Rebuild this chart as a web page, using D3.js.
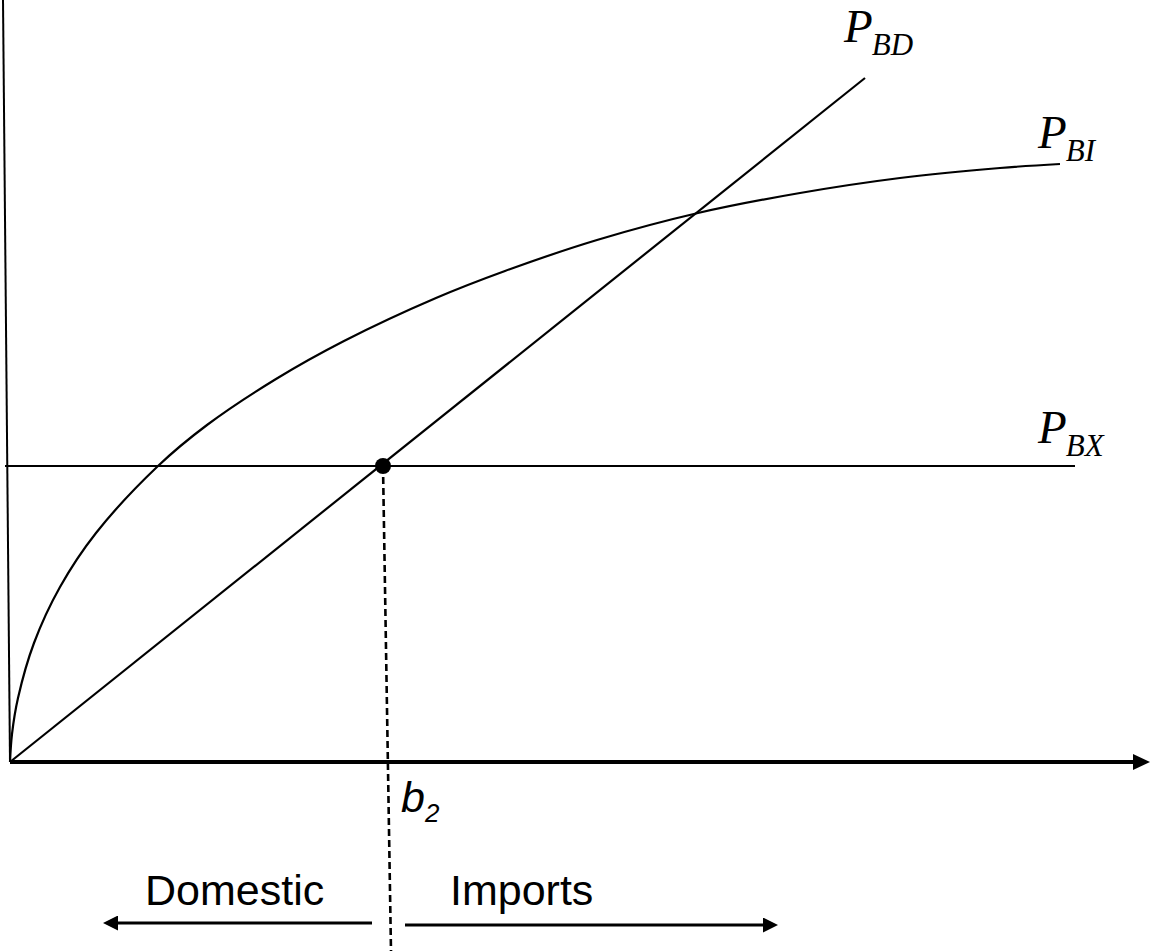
<!DOCTYPE html>
<html>
<head>
<meta charset="utf-8">
<script src="https://cdn.jsdelivr.net/npm/d3@7"></script>
<style>
  body { margin: 0; background: #fff; }
  svg { display: block; }
  .serif { font-family: "Liberation Serif", "Times New Roman", serif; font-style: italic; }
  .sans { font-family: "Liberation Sans", Arial, sans-serif; }
</style>
</head>
<body>
<svg id="chart" width="1152" height="951"></svg>
<script>
// quantity on x, price on y (units = distance from origin)
let importCurve = [
    [0, 0], [2, 28], [8, 64], [24, 119], [50, 175], [86, 229], [148, 296],
    [197, 337], [266, 383], [334, 421], [426, 464], [495, 491],
    [587, 522], [688, 549], [790, 569], [890, 584], [990, 594], [1050, 598]
]
let domesticLine = [[0, 0], [855, 684]]
let exportLine = [[-5, 296], [1065, 296]]
let yAxisLine = [[-7, 762], [0, 0]]
let xAxisLine = [[0, 0], [1123, 0]]
let b2Point = [373, 296]
let b2Drop = [[373, 296], [381, -189]]
let domesticArrow = [[362, -161], [108, -161]]
let importsArrow = [[395, -163], [753, -163]]

let svg = d3.select('#chart')

let x = d3.scaleLinear().domain([0, 1140]).range([10, 1150])
let y = d3.scaleLinear().domain([0, 762]).range([762, 0])

let line = d3.line()
    .x(function (d) { return x(d[0]) })
    .y(function (d) { return y(d[1]) })

let smooth = d3.line()
    .x(function (d) { return x(d[0]) })
    .y(function (d) { return y(d[1]) })
    .curve(d3.curveCatmullRom.alpha(0.5))

/* -------------- ARROW HEADS -------------- */
let defs = svg.append('defs')
function addMarker(id, len, half) {
    defs.append('marker')
        .attr('id', id)
        .attr('markerUnits', 'userSpaceOnUse')
        .attr('viewBox', '0 ' + (-half) + ' ' + len + ' ' + (2 * half))
        .attr('refX', 0)
        .attr('refY', 0)
        .attr('markerWidth', len)
        .attr('markerHeight', 2 * half)
        .attr('orient', 'auto')
        .append('path')
        .attr('d', 'M0,' + (-half) + 'L' + len + ',0L0,' + half + 'Z')
        .attr('fill', '#000')
}
addMarker('bigArrow', 17, 8)
addMarker('smallArrow', 15, 7.5)

/* -------------- AXES -------------- */
svg.append('path')
    .attr('d', line(yAxisLine))
    .attr('stroke', '#000')
    .attr('stroke-width', 2)
    .attr('fill', 'none')

svg.append('path')
    .attr('d', line(xAxisLine))
    .attr('stroke', '#000')
    .attr('stroke-width', 4)
    .attr('fill', 'none')
    .attr('marker-end', 'url(#bigArrow)')

/* -------------- CURVES -------------- */
svg.append('path')
    .attr('d', line(exportLine))
    .attr('stroke', '#000')
    .attr('stroke-width', 2.2)
    .attr('fill', 'none')

svg.append('path')
    .attr('d', line(domesticLine))
    .attr('stroke', '#000')
    .attr('stroke-width', 2.2)
    .attr('fill', 'none')

svg.append('path')
    .attr('d', smooth(importCurve))
    .attr('stroke', '#000')
    .attr('stroke-width', 2.2)
    .attr('fill', 'none')

/* -------------- b2 -------------- */
svg.append('path')
    .attr('d', line(b2Drop))
    .attr('stroke', '#000')
    .attr('stroke-width', 2.6)
    .attr('stroke-dasharray', '7,4')
    .attr('fill', 'none')

svg.append('circle')
    .attr('cx', x(b2Point[0]))
    .attr('cy', y(b2Point[1]))
    .attr('r', 8)
    .attr('fill', '#000')

svg.append('path')
    .attr('d', line(domesticArrow))
    .attr('stroke', '#000')
    .attr('stroke-width', 3.2)
    .attr('fill', 'none')
    .attr('marker-end', 'url(#smallArrow)')

svg.append('path')
    .attr('d', line(importsArrow))
    .attr('stroke', '#000')
    .attr('stroke-width', 3.2)
    .attr('fill', 'none')
    .attr('marker-end', 'url(#smallArrow)')

/* -------------- LABELS -------------- */
function priceLabel(px, py, sub) {
    let t = svg.append('text').attr('class', 'serif')
        .attr('x', px).attr('y', py)
    t.append('tspan').attr('font-size', 47).text('P')
    t.append('tspan').attr('font-size', 31).attr('dx', -1).attr('dy', 13).text(sub)
}
priceLabel(844, 42, 'BD')
priceLabel(1038, 148, 'BI')
priceLabel(1038, 443, 'BX')

let b = svg.append('text').attr('class', 'sans')
    .attr('font-style', 'italic')
    .attr('x', 401).attr('y', 812)
b.append('tspan').attr('font-size', 43).text('b')
b.append('tspan').attr('font-size', 26).attr('dy', 10).text('2')

svg.append('text').attr('class', 'sans')
    .attr('font-size', 43)
    .attr('x', 145).attr('y', 905)
    .text('Domestic')

svg.append('text').attr('class', 'sans')
    .attr('font-size', 43)
    .attr('x', 450).attr('y', 905)
    .text('Imports')
</script>
</body>
</html>
